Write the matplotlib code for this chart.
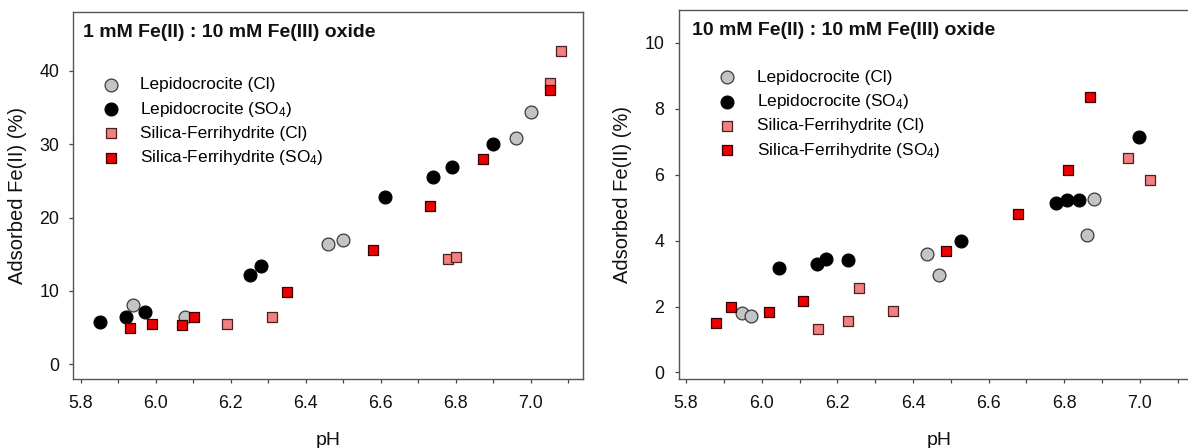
import matplotlib
matplotlib.use("Agg")
import matplotlib.pyplot as plt
from matplotlib.ticker import MultipleLocator, FormatStrFormatter

plt.rcParams['font.family'] = ['Liberation Sans', 'DejaVu Sans']
plt.rcParams['mathtext.fontset'] = 'custom'
plt.rcParams['mathtext.rm'] = 'Liberation Sans'
plt.rcParams['mathtext.it'] = 'Liberation Sans:italic'

# ---- Panel A: 1 mM Fe(II) : 10 mM Fe(III) oxide ----
a_lepCl_pH = [5.940, 6.078, 6.460, 6.500, 6.961, 7.000]
a_lepCl_y = [8.08, 6.49, 16.34, 16.93, 30.78, 34.41]
a_lepSO4_pH = [5.850, 5.921, 5.972, 6.250, 6.281, 6.610, 6.740, 6.791, 6.900]
a_lepSO4_y = [5.72, 6.40, 7.08, 12.17, 13.44, 22.74, 25.47, 26.83, 30.00]
a_sfCl_pH = [6.191, 6.311, 6.780, 6.801, 7.050, 7.081]
a_sfCl_y = [5.49, 6.40, 14.34, 14.62, 38.36, 42.67]
a_sfSO4_pH = [5.930, 5.991, 6.071, 6.101, 6.351, 6.580, 6.730, 6.872, 7.050]
a_sfSO4_y = [4.90, 5.45, 5.36, 6.45, 9.90, 15.52, 21.61, 27.96, 37.36]

# ---- Panel B: 10 mM Fe(II) : 10 mM Fe(III) oxide ----
b_lepCl_pH = [5.948, 5.971, 6.438, 6.468, 6.859, 6.878]
b_lepCl_y = [1.79, 1.71, 3.60, 2.96, 4.17, 5.27]
b_lepSO4_pH = [6.047, 6.147, 6.170, 6.229, 6.528, 6.778, 6.808, 6.839, 6.998]
b_lepSO4_y = [3.18, 3.29, 3.45, 3.41, 4.00, 5.14, 5.23, 5.23, 7.14]
b_sfCl_pH = [6.149, 6.229, 6.258, 6.348, 6.968, 7.028]
b_sfCl_y = [1.32, 1.57, 2.55, 1.86, 6.51, 5.85]
b_sfSO4_pH = [5.878, 5.918, 6.018, 6.108, 6.488, 6.678, 6.809, 6.869]
b_sfSO4_y = [1.51, 1.98, 1.82, 2.17, 3.67, 4.81, 6.15, 8.37]

labels = ['Lepidocrocite (Cl)', 'Lepidocrocite (SO$_4$)',
          'Silica-Ferrihydrite (Cl)', 'Silica-Ferrihydrite (SO$_4$)']
titles = ['1 mM Fe(II) : 10 mM Fe(III) oxide', '10 mM Fe(II) : 10 mM Fe(III) oxide']
xticks = [5.8, 6.0, 6.2, 6.4, 6.6, 6.8, 7.0]

W, H = 1188, 448
fig = plt.figure(figsize=(W / 100, H / 100), dpi=100)

def px_axes(l, t, r, b):
    return fig.add_axes([l / W, 1 - b / H, (r - l) / W, (b - t) / H])

axA = px_axes(73.3, 12, 583.3, 379)
axB = px_axes(678.5, 10, 1200, 379)

styles = [
    dict(marker='o', s=85, facecolor='#c4c4c4', edgecolor='#3a3a3a', linewidths=0.9),
    dict(marker='o', s=85, facecolor='#000000', edgecolor='#000000', linewidths=0.9),
    dict(marker='s', s=55, facecolor='#f28080', edgecolor='#4a2020', linewidths=0.9),
    dict(marker='s', s=55, facecolor='#ee0000', edgecolor='#3a0000', linewidths=0.9),
]

panels = [
    (axA, [(a_lepCl_pH, a_lepCl_y), (a_lepSO4_pH, a_lepSO4_y), (a_sfCl_pH, a_sfCl_y), (a_sfSO4_pH, a_sfSO4_y)],
     (5.78, 7.14), (-2.0, 48.0), 10, titles[0], (0.019, 0.9455), (0.0565, 0.822)),
    (axB, [(b_lepCl_pH, b_lepCl_y), (b_lepSO4_pH, b_lepSO4_y), (b_sfCl_pH, b_sfCl_y), (b_sfSO4_pH, b_sfSO4_y)],
     (5.78, 7.159), (-0.2, 11.0), 2, titles[1], (0.025, 0.9457), (0.0774, 0.838)),
]

for ax, series, xl, yl, ystep, title, tpos, lpos in panels:
    for (xs, ys), st, lab in zip(series, styles, labels):
        ax.scatter(xs, ys, label=lab, zorder=3, **st)
    ax.set_xlim(*xl)
    ax.set_ylim(*yl)
    ax.set_xticks(xticks)
    ax.xaxis.set_major_formatter(FormatStrFormatter('%.1f'))
    ax.xaxis.set_minor_locator(MultipleLocator(0.1))
    ax.yaxis.set_major_locator(MultipleLocator(ystep))
    ax.tick_params(axis='both', which='both', direction='out', length=3.2, width=0.9,
                   color='#444444', labelsize=12.8, labelcolor='#111111')
    ax.tick_params(axis='x', which='major', pad=8)
    ax.tick_params(axis='y', which='major', pad=7)
    for sp in ax.spines.values():
        sp.set_color('#555555')
        sp.set_linewidth(1.0)
    ax.set_xlabel('pH', fontsize=14, color='#111111', labelpad=15)
    ax.set_ylabel('Adsorbed Fe(II) (%)', fontsize=14.5, color='#111111', labelpad=9)
    ax.text(tpos[0], tpos[1], title, transform=ax.transAxes, fontsize=14,
            fontweight='bold', va='center', ha='left', color='#111111')
    ax.legend(loc='upper left', bbox_to_anchor=lpos, frameon=False, fontsize=12.4,
              handlelength=1.0, handletextpad=1.2, labelspacing=0.42,
              borderaxespad=0, borderpad=0, scatterpoints=1)

fig.savefig('out.png', dpi=100)
